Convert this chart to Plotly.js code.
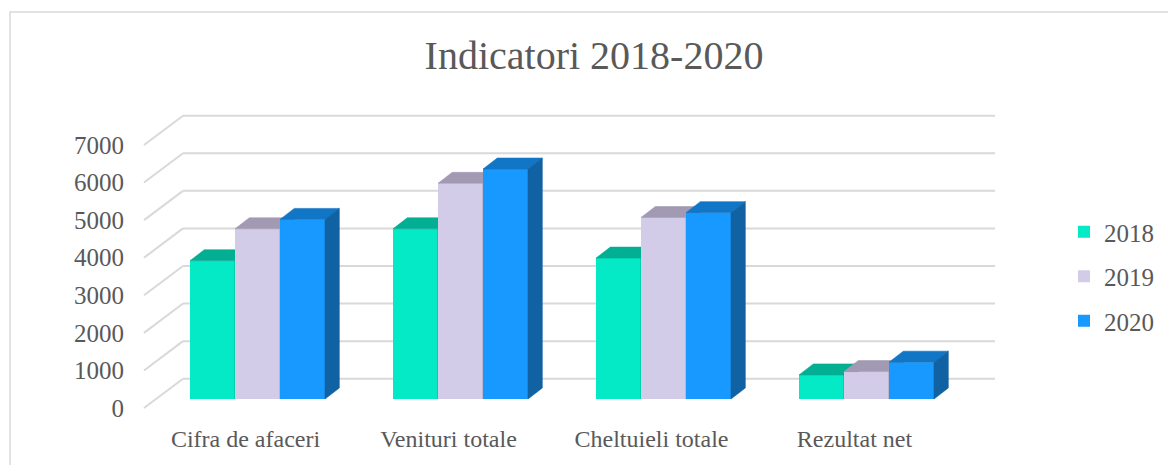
<!DOCTYPE html>
<html><head><meta charset="utf-8">
<script src="https://cdn.plot.ly/plotly-3.0.1.min.js"></script>
<style>html,body{margin:0;padding:0;background:#fff;} #chart{width:1168px;height:465px;}</style>
</head><body><div id="chart"></div>
<script>
// ---- data ----
const categories = ["Cifra de afaceri", "Venituri totale", "Cheltuieli totale", "Rezultat net"];
const seriesNames = ["2018", "2019", "2020"];
const values2018 = [3680, 4530, 3750, 640];
const values2019 = [4530, 5740, 4830, 730];
const values2020 = [4780, 6120, 4960, 980];
const yTickValues = [0, 1000, 2000, 3000, 4000, 5000, 6000, 7000];
const chartTitle = "Indicatori 2018-2020";

// ---- geometry / style ----
const W = 1168, H = 465;
const px = x => x / W;
const py = y => 1 - y / H;
const FONT = "Liberation Serif";
const TEXT = "#595959";
const GRID = "#D9D9D9";
const PX_PER_UNIT = 263 / 7000;          // vertical px per value unit
const X0 = 156, X1 = 968;                // bar plane x extent (px)
const Y_BOT = 420, Y_TOP = 100, ZERO = 399;
const PX_PER_CAT = (X1 - X0) / categories.length;
const barW = 45 / PX_PER_CAT;
const dX = 14.3 / PX_PER_CAT;            // depth offset in x units
const dY = 11 / PX_PER_UNIT;             // depth offset in value units
const BACK = 20.3 / PX_PER_UNIT;         // back wall offset
const FRONT = -9 / PX_PER_UNIT;          // front floor offset
const yRange = [(ZERO - Y_BOT) / PX_PER_UNIT, (ZERO - Y_TOP) / PX_PER_UNIT];

const frontCol = ["#04EAC6", "#D3CCE8", "#1899FF"];
const topCol   = ["#02AF93", "#A29AB3", "#1276C6"];
const sideCol  = ["#02957E", "#8C859B", "#1162A2"];
const yIds = ["y", "y2", "y3"];
const allValues = [values2018, values2019, values2020];
const idx = categories.map((c, i) => i);

const traces = [];
allValues.forEach((vals, k) => {
  const off = -1.5 * barW + k * barW;
  traces.push({
    type: "bar", x: idx, y: vals, width: barW, offset: off,
    name: seriesNames[k], legendgroup: seriesNames[k], yaxis: yIds[k],
    marker: {color: frontCol[k], line: {width: 0}}, hoverinfo: "y+name"
  });
  const tx = [], ty = [], sx = [], sy = [];
  vals.forEach((v, i) => {
    const xl = i + off, xr = xl + barW;
    tx.push(xl, xr, xr + dX, xl + dX, xl, null);
    ty.push(v, v, v + dY, v + dY, v, null);
    sx.push(xr, xr + dX, xr + dX, xr, xr, null);
    sy.push(0, dY, v + dY, v, 0, null);
  });
  traces.push({type: "scatter", mode: "lines", x: tx, y: ty, fill: "toself",
    fillcolor: topCol[k], line: {width: 0.6, color: topCol[k]}, yaxis: yIds[k],
    showlegend: false, legendgroup: seriesNames[k], hoverinfo: "skip"});
  traces.push({type: "scatter", mode: "lines", x: sx, y: sy, fill: "toself",
    fillcolor: sideCol[k], line: {width: 0.6, color: sideCol[k]}, yaxis: yIds[k],
    showlegend: false, legendgroup: seriesNames[k], hoverinfo: "skip"});
});

const shapes = [];
yTickValues.forEach(v => {
  shapes.push({type: "line", layer: "below", xref: "paper", yref: "y",
    x0: px(183), x1: px(995), y0: v + BACK, y1: v + BACK, line: {color: GRID, width: 2}});
  shapes.push({type: "line", layer: "below", xref: "paper", yref: "y",
    x0: px(144), x1: px(183), y0: v + FRONT, y1: v + BACK, line: {color: GRID, width: 2}});
});
shapes.push({type: "rect", xref: "paper", yref: "paper", x0: px(10), x1: px(1200),
  y0: py(12), y1: py(520), line: {color: GRID, width: 1.5}, fillcolor: "rgba(0,0,0,0)"});

const hiddenY = {overlaying: "y", domain: [py(Y_BOT), py(Y_TOP)], range: yRange,
  visible: false, fixedrange: true};

const layout = {
  width: W, height: H,
  margin: {l: 0, r: 0, t: 0, b: 0},
  paper_bgcolor: "#fff", plot_bgcolor: "rgba(0,0,0,0)",
  barmode: "overlay",
  showlegend: true,
  title: {text: chartTitle, x: px(594), xanchor: "center", xref: "paper",
    y: py(55), yanchor: "middle", font: {family: FONT, size: 40, color: TEXT}},
  xaxis: {domain: [px(X0), px(X1)], range: [-0.5, categories.length - 0.5],
    tickvals: idx, ticktext: categories, ticks: "", showgrid: false, zeroline: false,
    showline: false, ticklabelshift: -12, ticklabelstandoff: 2,
    tickfont: {family: FONT, size: 24, color: TEXT}, fixedrange: true},
  yaxis: {domain: [py(Y_BOT), py(Y_TOP)], range: yRange, tickvals: yTickValues,
    ticks: "", showgrid: false, zeroline: false, showline: false,
    anchor: "free", position: px(144), ticklabelshift: 9, ticklabelstandoff: 20,
    tickfont: {family: FONT, size: 25, color: TEXT}, fixedrange: true},
  yaxis2: Object.assign({}, hiddenY),
  yaxis3: Object.assign({}, hiddenY),
  legend: {x: px(1064), y: py(209), xanchor: "left", yanchor: "top",
    font: {family: FONT, size: 25, color: TEXT}, traceorder: "grouped",
    tracegroupgap: 9, bgcolor: "rgba(0,0,0,0)"},
  shapes: shapes
};

Plotly.newPlot("chart", traces, layout, {displayModeBar: false, staticPlot: true});
</script>
</body></html>
